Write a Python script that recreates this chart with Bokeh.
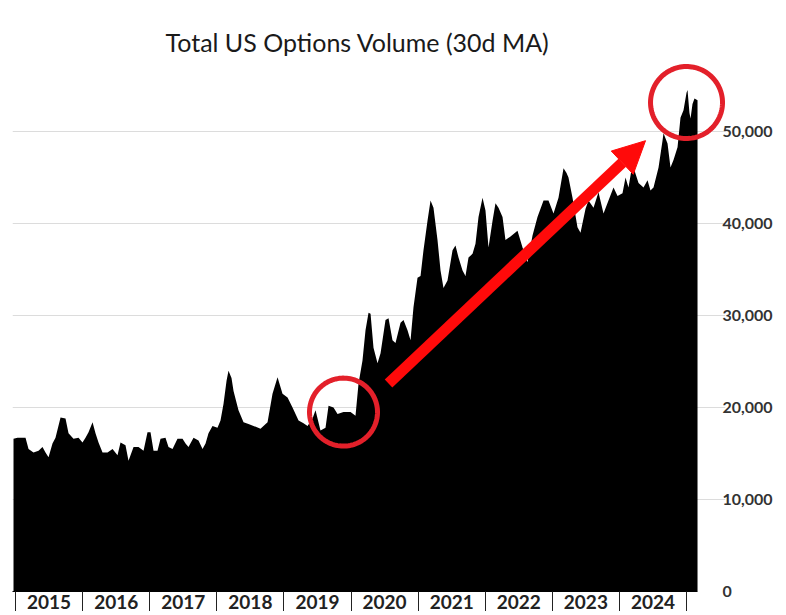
import numpy as np
from bokeh.plotting import figure
from bokeh.models import (FixedTicker, NumeralTickFormatter, PolyAnnotation,
                          Arrow, NormalHead, Range1d)
from bokeh.embed import file_html
from bokeh.resources import INLINE

# ---------------- data (decimal year, total options volume) -------------
years = [
    2014.970, 2015.030, 2015.149, 2015.194, 2015.268, 2015.343, 2015.402, 2015.447,
    2015.492, 2015.551, 2015.596, 2015.671, 2015.745, 2015.790, 2015.864, 2015.939,
    2015.998, 2016.043, 2016.088, 2016.148, 2016.192, 2016.237, 2016.297, 2016.371,
    2016.446, 2016.520, 2016.565, 2016.639, 2016.684, 2016.759, 2016.833, 2016.908,
    2016.967, 2017.012, 2017.057, 2017.116, 2017.161, 2017.235, 2017.280, 2017.340,
    2017.414, 2017.489, 2017.534, 2017.578, 2017.653, 2017.727, 2017.787, 2017.832,
    2017.876, 2017.936, 2018.010, 2018.055, 2018.100, 2018.145, 2018.174, 2018.219,
    2018.249, 2018.323, 2018.398, 2018.472, 2018.547, 2018.651, 2018.756, 2018.830,
    2018.905, 2018.979, 2019.054, 2019.128, 2019.218, 2019.292, 2019.352, 2019.426,
    2019.471, 2019.545, 2019.620, 2019.665, 2019.739, 2019.799, 2019.888, 2019.993,
    2020.067, 2020.112, 2020.171, 2020.216, 2020.261, 2020.291, 2020.335, 2020.395,
    2020.440, 2020.514, 2020.559, 2020.618, 2020.663, 2020.738, 2020.782, 2020.842,
    2020.887, 2020.931, 2020.991, 2021.036, 2021.080, 2021.140, 2021.185, 2021.229,
    2021.289, 2021.334, 2021.378, 2021.438, 2021.513, 2021.557, 2021.602, 2021.662,
    2021.706, 2021.751, 2021.811, 2021.855, 2021.900, 2021.960, 2022.004, 2022.049,
    2022.109, 2022.153, 2022.198, 2022.258, 2022.302, 2022.377, 2022.481, 2022.556,
    2022.630, 2022.705, 2022.779, 2022.869, 2022.943, 2023.018, 2023.092, 2023.167,
    2023.212, 2023.241, 2023.301, 2023.375, 2023.420, 2023.495, 2023.539, 2023.614,
    2023.688, 2023.763, 2023.837, 2023.912, 2023.972, 2024.046, 2024.091, 2024.135,
    2024.195, 2024.240, 2024.285, 2024.359, 2024.419, 2024.463, 2024.508, 2024.583,
    2024.642, 2024.657, 2024.717, 2024.761, 2024.806, 2024.866, 2024.910, 2024.955,
    2025.000, 2025.015, 2025.044, 2025.060, 2025.089, 2025.119, 2025.164,
]
volume = [
    16600, 16700, 16700, 15500, 15100, 15300, 15700, 15100,
    14600, 16100, 16700, 18900, 18800, 17200, 16600, 16700,
    16200, 16700, 17300, 18400, 17200, 16200, 15100, 15100,
    15500, 14800, 16200, 15900, 14200, 15700, 15700, 15300,
    17300, 17300, 15300, 15300, 16600, 16700, 15700, 15500,
    16600, 16600, 16100, 15700, 16700, 16400, 15500, 16100,
    17200, 18000, 17800, 18600, 20400, 22900, 24000, 23200,
    21800, 19700, 18400, 18200, 18000, 17700, 18400, 21500,
    23300, 21500, 21100, 20000, 18600, 18300, 18000, 18800,
    19700, 17500, 17800, 20200, 20000, 19300, 19500, 19500,
    19100, 22600, 25100, 28400, 30300, 30200, 26500, 24800,
    25900, 29500, 29700, 27300, 27000, 29200, 29500, 28400,
    27300, 30900, 34100, 34300, 37100, 40300, 42500, 41700,
    38200, 34900, 33000, 33800, 37100, 37600, 36300, 34900,
    34300, 36300, 36700, 37800, 40700, 42800, 41400, 37400,
    40300, 42200, 41700, 40700, 38200, 38600, 39200, 37400,
    35800, 38700, 40700, 42500, 42500, 41100, 42800, 46000,
    45500, 45000, 42800, 39600, 39000, 41600, 42500, 41700,
    43400, 41100, 42500, 43900, 43000, 43300, 45000, 43900,
    46500, 45400, 44400, 43900, 44700, 43600, 43900, 46100,
    49000, 49800, 48700, 46100, 46900, 48300, 51500, 52300,
    54200, 54500, 52000, 51400, 53000, 53600, 53400,
]

year_labels = ["2015", "2016", "2017", "2018", "2019",
               "2020", "2021", "2022", "2023", "2024"]
y_ticks = [0, 10000, 20000, 30000, 40000, 50000]

# annotation anchors (data units)
circle_centers = [(2019.888, 19500), (2025.000, 53150)]
circle_radius_px = [34, 36]
arrow_start = (2020.559, 22600)
arrow_end = (2024.389, 49000)

# ---------------- layout ----------------
X_START = 2014.955
PX_PER_YEAR = 67.1
FRAME_W, FRAME_H = 713, 529
X_END = X_START + FRAME_W / PX_PER_YEAR
Y_START, Y_END = 0, 57500
GRID_LEN_PX = 701          # gridlines (and their tick stubs) stop here
SEP_LEN = 30

p = figure(frame_width=FRAME_W, frame_height=FRAME_H,
           x_range=Range1d(X_START, X_END), y_range=Range1d(Y_START, Y_END),
           y_axis_location="right", output_backend="svg", toolbar_location=None,
           min_border_left=12, min_border_right=0, min_border_top=62,
           min_border_bottom=0, title="Total US Options Volume (30d MA)")
p.outline_line_color = None
p.background_fill_color = "white"
p.border_fill_color = "white"

p.title.align = "left"
p.title.offset = 153
p.title.text_font = "Lato"
p.title.text_font_size = "25px"
p.title.text_font_style = "normal"
p.title.text_color = "#1a1a1a"
p.title.standoff = 12

# area
p.varea(x=years, y1=0, y2=volume, fill_color="black")

# y axis (right)
ya = p.yaxis[0]
ya.ticker = FixedTicker(ticks=y_ticks)
ya.formatter = NumeralTickFormatter(format="0,0")
ya.axis_line_color = None
ya.major_tick_in = 0
ya.major_tick_out = 0
ya.minor_tick_line_color = None
ya.major_label_standoff = -3
ya.major_label_text_font = "Lato"
ya.major_label_text_font_size = "16px"
ya.major_label_text_font_style = "bold"
ya.major_label_text_color = "#333333"

p.ygrid.grid_line_color = "#dcdcdc"
p.ygrid.bounds = (X_START, X_START + GRID_LEN_PX / PX_PER_YEAR)
p.xgrid.visible = False

# x axis (boxed year labels)
centers = [int(s) + 0.5 for s in year_labels]
bounds = [int(s) for s in year_labels] + [int(year_labels[-1]) + 1]
xa = p.xaxis[0]
xa.ticker = FixedTicker(ticks=centers, minor_ticks=bounds)
xa.major_label_overrides = {c: s for c, s in zip(centers, year_labels)}
xa.bounds = (X_START, years[-1])
xa.axis_line_color = "black"
xa.axis_line_width = 1
xa.major_tick_in = 0
xa.major_tick_out = 0
xa.minor_tick_in = 0
xa.minor_tick_out = SEP_LEN
xa.minor_tick_line_color = "#222222"
xa.major_label_standoff = 3 - SEP_LEN
xa.major_label_text_font = "Lato"
xa.major_label_text_font_size = "19px"
xa.major_label_text_font_style = "bold"
xa.major_label_text_color = "#222222"

# red annotations
px_y = FRAME_H / (Y_END - Y_START)
t = np.linspace(0, 2 * np.pi, 120)
for (cx, cy), r in zip(circle_centers, circle_radius_px):
    p.add_layout(PolyAnnotation(xs=list(cx + r / PX_PER_YEAR * np.cos(t)),
                                ys=list(cy + r / px_y * np.sin(t)),
                                fill_color=None, fill_alpha=0,
                                line_color="#e3202a", line_alpha=1.0,
                                line_width=5))

p.add_layout(Arrow(end=NormalHead(size=32, fill_color="#ff0a0a",
                                  line_color="#ff0a0a"),
                   x_start=arrow_start[0], y_start=arrow_start[1],
                   x_end=arrow_end[0], y_end=arrow_end[1],
                   line_color="#ff0a0a", line_width=11))

open("out.html", "w").write(file_html(p, INLINE))
